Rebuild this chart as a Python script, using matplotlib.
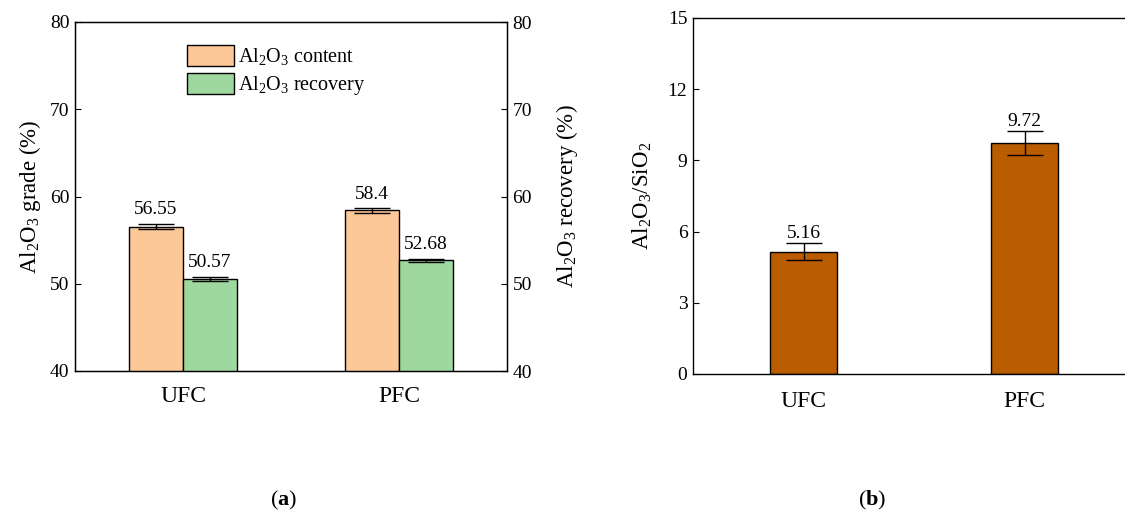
import matplotlib
matplotlib.use("Agg")
import matplotlib.pyplot as plt
import numpy as np

plt.rcParams['font.family'] = ['Liberation Serif', 'DejaVu Serif']
plt.rcParams['mathtext.fontset'] = 'custom'
plt.rcParams['mathtext.rm'] = 'Liberation Serif'
plt.rcParams['mathtext.it'] = 'Liberation Serif:italic'
plt.rcParams['mathtext.bf'] = 'Liberation Serif:bold'

# ---- data ----
categories = ['UFC', 'PFC']
content_vals = [56.55, 58.4]
content_err = [0.3, 0.25]
recovery_vals = [50.57, 52.68]
recovery_err = [0.2, 0.2]
ratio_vals = [5.16, 9.72]
ratio_err = [0.35, 0.5]
content_labels = ['56.55', '58.4']
recovery_labels = ['50.57', '52.68']
ratio_labels = ['5.16', '9.72']
left_ticks = [40, 50, 60, 70, 80]
right_ticks = [0, 3, 6, 9, 12, 15]

c_content = '#FDC898'
c_recovery = '#9ED89E'
c_ratio = '#BA5C00'

W, H = 1125, 517
fig = plt.figure(figsize=(W / 100, H / 100), dpi=100)

TICK_FS = 14
CAT_FS = 17
LAB_FS = 16.5
ANN_FS = 14
LEG_FS = 14.5

# ---- panel (a) ----
ax1 = fig.add_axes([75 / W, 1 - 371 / H, (507 - 75) / W, (371 - 22) / H])
x = np.arange(len(categories))
bw = 0.25
eb = dict(ecolor='black', elinewidth=1, capsize=13, capthick=1)
ax1.bar(x - bw / 2, content_vals, bw, yerr=content_err, color=c_content,
        edgecolor='black', linewidth=1, error_kw=eb, label=r'Al$_2$O$_3$ content')
ax1.bar(x + bw / 2, recovery_vals, bw, yerr=recovery_err, color=c_recovery,
        edgecolor='black', linewidth=1, error_kw=eb, label=r'Al$_2$O$_3$ recovery')
for i in range(len(categories)):
    ax1.annotate(content_labels[i], (x[i] - bw / 2, content_vals[i] + content_err[i]),
                 xytext=(0, 4), textcoords='offset points', ha='center', va='bottom', fontsize=ANN_FS)
    ax1.annotate(recovery_labels[i], (x[i] + bw / 2, recovery_vals[i] + recovery_err[i]),
                 xytext=(0, 4), textcoords='offset points', ha='center', va='bottom', fontsize=ANN_FS)
ax1.set_xlim(-0.5, 1.5)
ax1.set_ylim(40, 80)
ax1.set_yticks(left_ticks)
ax1.set_xticks(x)
ax1.set_xticklabels(categories, fontsize=CAT_FS)
ax1.tick_params(axis='x', length=0, pad=11)
ax1.tick_params(axis='y', direction='in', length=4, labelsize=TICK_FS, pad=4)
ax1.set_ylabel(r'Al$_2$O$_3$ grade (%)', fontsize=LAB_FS, labelpad=5)
for s in ax1.spines.values():
    s.set_linewidth(1)
leg = ax1.legend(loc='upper left', bbox_to_anchor=((187 - 75) / 432, 1 - (45 - 22) / 349),
                 frameon=False, fontsize=LEG_FS, handlelength=2.35, handleheight=1.2,
                 labelspacing=0.3, handletextpad=0.2, borderaxespad=0, borderpad=0)

ax1b = ax1.twinx()
ax1b.set_ylim(40, 80)
ax1b.set_yticks(left_ticks)
ax1b.tick_params(axis='y', direction='in', length=4, labelsize=TICK_FS, pad=4)
ax1b.set_ylabel(r'Al$_2$O$_3$ recovery (%)', fontsize=LAB_FS, labelpad=16)
ax1b.yaxis.label.set_rotation(90)

# ---- panel (b) ----
ax2 = fig.add_axes([693 / W, 1 - 374 / H, (W - 693) / W, (374 - 18) / H])
bw2 = 0.3
ax2.bar(x, ratio_vals, bw2, yerr=ratio_err, color=c_ratio, edgecolor='black',
        linewidth=1, error_kw=dict(ecolor='black', elinewidth=1, capsize=13, capthick=1))
for i in range(len(categories)):
    ax2.annotate(ratio_labels[i], (x[i], ratio_vals[i] + ratio_err[i]),
                 xytext=(0, 1), textcoords='offset points', ha='center', va='bottom', fontsize=ANN_FS)
ax2.set_xlim(-0.5, (W - 803.5) / 221.0)
ax2.set_ylim(0, 15)
ax2.set_yticks(right_ticks)
ax2.set_xticks(x)
ax2.set_xticklabels(categories, fontsize=CAT_FS)
ax2.tick_params(axis='x', length=0, pad=12)
ax2.tick_params(axis='y', direction='in', length=4, labelsize=TICK_FS, pad=4)
ax2.set_ylabel(r'Al$_2$O$_3$/SiO$_2$', fontsize=LAB_FS, labelpad=10)
ax2.spines['right'].set_visible(False)
for s in ax2.spines.values():
    s.set_linewidth(1)

# ---- captions ----
fig.text(284 / W, 1 - 500 / H, r'($\mathbf{a}$)', ha='center', va='center', fontsize=16)
fig.text(872 / W, 1 - 500 / H, r'($\mathbf{b}$)', ha='center', va='center', fontsize=16)

fig.savefig('out.png', dpi=100)
